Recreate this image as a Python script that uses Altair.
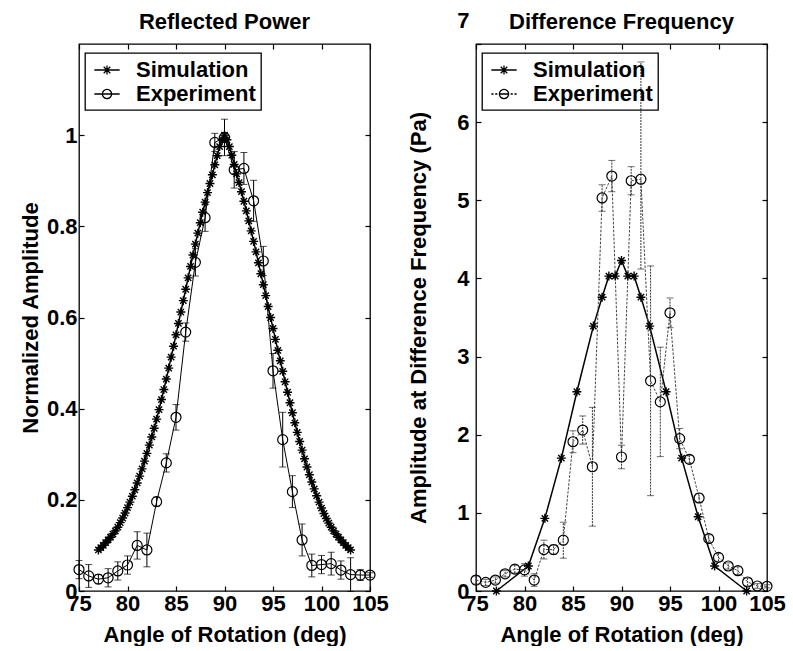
import altair as alt
import pandas as pd

FONT = "Liberation Sans"

# ---------------- Reflected Power (left panel) ----------------
refl_sim_angle = [77, 77.25, 77.5, 77.75, 78, 78.25, 78.5, 78.75, 79, 79.25, 79.5, 79.75,
                  80, 80.25, 80.5, 80.75, 81, 81.25, 81.5, 81.75, 82, 82.25, 82.5, 82.75,
                  83, 83.25, 83.5, 83.75, 84, 84.25, 84.5, 84.75, 85, 85.25, 85.5, 85.75,
                  86, 86.25, 86.5, 86.75, 87, 87.25, 87.5, 87.75, 88, 88.25, 88.5, 88.75,
                  89, 89.25, 89.5, 89.75, 90, 90.25, 90.5, 90.75, 91, 91.25, 91.5, 91.75,
                  92, 92.25, 92.5, 92.75, 93, 93.25, 93.5, 93.75, 94, 94.25, 94.5, 94.75,
                  95, 95.25, 95.5, 95.75, 96, 96.25, 96.5, 96.75, 97, 97.25, 97.5, 97.75,
                  98, 98.25, 98.5, 98.75, 99, 99.25, 99.5, 99.75, 100, 100.25, 100.5, 100.75,
                  101, 101.25, 101.5, 101.75, 102, 102.25, 102.5, 102.75, 103]
refl_sim_amp = [0.090, 0.095, 0.100, 0.106, 0.112, 0.118, 0.125, 0.132, 0.140, 0.150,
                0.160, 0.171, 0.183, 0.195, 0.208, 0.222, 0.237, 0.252, 0.268, 0.285,
                0.302, 0.320, 0.338, 0.357, 0.377, 0.398, 0.420, 0.442, 0.465, 0.489,
                0.513, 0.537, 0.562, 0.587, 0.612, 0.637, 0.662, 0.687, 0.712, 0.737,
                0.761, 0.785, 0.808, 0.831, 0.853, 0.874, 0.894, 0.913, 0.935, 0.955,
                0.975, 0.990,
                1.000,
                0.990, 0.975, 0.956, 0.936, 0.915, 0.896, 0.876, 0.855, 0.834, 0.812,
                0.790, 0.767, 0.744, 0.720, 0.696, 0.672, 0.648, 0.624, 0.600, 0.576,
                0.552, 0.528, 0.505, 0.482, 0.459, 0.436, 0.413, 0.391, 0.369, 0.348,
                0.328, 0.309, 0.290, 0.272, 0.255, 0.239, 0.224, 0.209, 0.195, 0.182,
                0.170, 0.159, 0.149, 0.140, 0.132, 0.125, 0.118, 0.112, 0.106, 0.100,
                0.095, 0.090]

refl_exp_angle = [75, 76, 77, 78, 79, 80, 81, 82, 83, 84, 85, 86, 87, 88, 89, 90,
                  91, 92, 93, 94, 95, 96, 97, 98, 99, 100, 101, 102, 103, 104, 105]
refl_exp_amp = [0.047, 0.033, 0.026, 0.029, 0.044, 0.057, 0.100, 0.090, 0.196, 0.281,
                0.381, 0.568, 0.721, 0.819, 0.984, 0.995, 0.924, 0.927, 0.856, 0.724,
                0.483, 0.332, 0.218, 0.112, 0.056, 0.058, 0.060, 0.046, 0.036, 0.035, 0.035]
refl_exp_err = [0.020, 0.025, 0.010, 0.020, 0.020, 0.020, 0.030, 0.037, 0.010, 0.020,
                0.028, 0.020, 0.030, 0.030, 0.020, 0.040, 0.040, 0.035, 0.045, 0.032,
                0.038, 0.060, 0.035, 0.035, 0.025, 0.020, 0.025, 0.020, 0.037, 0.012, 0.005]

# ---------------- Difference Frequency (right panel) ----------------
diff_sim_angle = [77.1, 80.4, 82.1, 83.8, 85.4, 87.1, 88.0, 88.7, 89.35, 90.0,
                  90.65, 91.3, 92.0, 92.9, 94.6, 96.2, 97.9, 99.6, 102.9]
diff_sim_amp = [0.0, 0.32, 0.93, 1.70, 2.55, 3.39, 3.76, 4.03, 4.03, 4.23,
                4.03, 4.03, 3.76, 3.39, 2.55, 1.70, 0.95, 0.32, 0.0]

diff_exp_angle = [75, 76, 77, 78, 79, 80, 81, 82, 83, 84, 85, 86, 87, 88, 89, 90,
                  91, 92, 93, 94, 95, 96, 97, 98, 99, 100, 101, 102, 103, 104, 105]
diff_exp_amp = [0.14, 0.11, 0.14, 0.22, 0.28, 0.27, 0.14, 0.53, 0.53, 0.65,
                1.91, 2.06, 1.59, 5.03, 5.31, 1.715, 5.25, 5.27, 2.69, 2.42,
                3.56, 1.95, 1.685, 1.19, 0.67, 0.43, 0.32, 0.26, 0.115, 0.064, 0.06]
diff_exp_err_lo = [0.05, 0.04, 0.04, 0.04, 0.05, 0.08, 0.08, 0.12, 0.06, 0.23,
                   0.14, 0.18, 0.76, 0.17, 0.20, 0.15, 0.18, 1.15, 1.47, 0.70,
                   0.19, 0.13, 0.05, 0.06, 0.05, 0.05, 0.04, 0.05, 0.05, 0.03, 0.02]
diff_exp_err_hi = [0.05, 0.04, 0.04, 0.04, 0.05, 0.08, 0.08, 0.12, 0.06, 0.23,
                   0.14, 0.18, 0.76, 0.17, 0.20, 0.15, 0.18, 1.50, 1.47, 0.70,
                   0.19, 0.13, 0.05, 0.06, 0.05, 0.05, 0.04, 0.05, 0.05, 0.03, 0.02]

series_names = ["Simulation", "Experiment"]
x_ticks = [75, 80, 85, 90, 95, 100, 105]
refl_y_ticks = [0, 0.2, 0.4, 0.6, 0.8, 1.0]
diff_y_ticks = [0, 1, 2, 3, 4, 5, 6, 7]

STAR = "M-1,0H1M0,-1V1M-0.7,-0.7L0.7,0.7M-0.7,0.7L0.7,-0.7"
LEG_SIM = "M-1.15,0H1.15M-0.42,0H0.42M0,-0.42V0.42M-0.3,-0.3L0.3,0.3M-0.3,0.3L0.3,-0.3"
LEG_EXP_SOLID = "M-1.15,0H1.15M0.42,0A0.42,0.42 0 1,1 -0.42,0A0.42,0.42 0 1,1 0.42,0"
LEG_EXP_DOT = ("M-1.15,0H-0.95M-0.8,0H-0.6M0.6,0H0.8M0.95,0H1.15M-0.42,0H0.42"
               "M0.42,0A0.42,0.42 0 1,1 -0.42,0A0.42,0.42 0 1,1 0.42,0")

W, H = 291, 547


def panel(title, ytitle, sim_a, sim_v, exp_a, exp_v, lo, hi, ydom, yticks,
          ylabpad, ytitlepad, exp_dash, leg_exp, err_color, label_offset, title_offset):
    sim_df = pd.DataFrame({"angle": sim_a, "amp": sim_v})
    exp_df = pd.DataFrame({"angle": exp_a, "amp": exp_v,
                           "lo": [v - e for v, e in zip(exp_v, lo)],
                           "hi": [v + e for v, e in zip(exp_v, hi)]})
    leg_df = pd.DataFrame({"series": series_names, "angle": [0, 0], "amp": [0, 0]})

    xs = alt.Scale(domain=[75, 105], nice=False, zero=False)
    ys = alt.Scale(domain=ydom, nice=False, zero=False)

    bottom = alt.Axis(orient="bottom", values=x_ticks, tickSize=5, offset=-5, domain=False,
                      grid=False, labelPadding=2, labelFlush=False, labelOverlap=False,
                      format="d", title="Angle of Rotation (deg)", titlePadding=10)
    top = alt.Axis(orient="top", values=x_ticks, tickSize=5, offset=-5, domain=False,
                   grid=False, labels=False, title=None)
    left_kw = dict(orient="left", values=yticks, tickSize=5, offset=-5, domain=False,
                   grid=False, labelPadding=ylabpad, labelFlush=False, labelOverlap=False,
                   format="~g", title=ytitle, titlePadding=ytitlepad)
    if label_offset is not None:
        left_kw["labelOffset"] = label_offset
    left = alt.Axis(**left_kw)
    right = alt.Axis(orient="right", values=yticks, tickSize=5, offset=-5, domain=False,
                     grid=False, labels=False, title=None)

    sim_line = alt.Chart(sim_df).mark_line(color="black", strokeWidth=1.5).encode(
        x=alt.X("angle:Q", scale=xs, axis=bottom),
        y=alt.Y("amp:Q", scale=ys, axis=left),
    )
    exp_line_kw = dict(color="black", strokeWidth=1)
    if exp_dash:
        exp_line_kw = dict(color="#444444", strokeWidth=1, strokeDash=[2.5, 1.5])
    exp_line = alt.Chart(exp_df).mark_line(**exp_line_kw).encode(
        x=alt.X("angle:Q", scale=xs, axis=top),
        y=alt.Y("amp:Q", scale=ys, axis=right),
    )
    rule_kw = dict(color=err_color, strokeWidth=1)
    if exp_dash:
        rule_kw["strokeDash"] = [2, 1]
    err = alt.Chart(exp_df).mark_rule(**rule_kw).encode(
        x=alt.X("angle:Q", scale=xs, axis=None),
        y=alt.Y("lo:Q", scale=ys, axis=None),
        y2="hi:Q",
    )
    cap_lo = alt.Chart(exp_df).mark_tick(orient="horizontal", size=7, thickness=1,
                                         color=err_color).encode(
        x=alt.X("angle:Q", scale=xs, axis=None),
        y=alt.Y("lo:Q", scale=ys, axis=None),
    )
    cap_hi = alt.Chart(exp_df).mark_tick(orient="horizontal", size=7, thickness=1,
                                         color=err_color).encode(
        x=alt.X("angle:Q", scale=xs, axis=None),
        y=alt.Y("hi:Q", scale=ys, axis=None),
    )
    sim_pts = alt.Chart(sim_df).mark_point(shape=STAR, size=81, filled=False,
                                           color="black", strokeWidth=1.4, opacity=1).encode(
        x=alt.X("angle:Q", scale=xs, axis=None),
        y=alt.Y("amp:Q", scale=ys, axis=None),
    )
    exp_pts = alt.Chart(exp_df).mark_point(shape="circle", size=100, filled=False,
                                           color="black", strokeWidth=1.2, opacity=1).encode(
        x=alt.X("angle:Q", scale=xs, axis=None),
        y=alt.Y("amp:Q", scale=ys, axis=None),
    )
    leg = alt.Chart(leg_df).mark_point(clip=True, filled=False, color="black",
                                       opacity=1).encode(
        x=alt.X("angle:Q", scale=xs, axis=None),
        y=alt.Y("amp:Q", scale=ys, axis=None),
        shape=alt.Shape("series:N",
                        scale=alt.Scale(domain=series_names, range=[LEG_SIM, leg_exp]),
                        legend=alt.Legend(orient="none", legendX=6, legendY=9, title=None,
                                          labelFont=FONT, labelFontSize=22,
                                          labelFontWeight="bold", labelColor="black",
                                          strokeColor="black", padding=5,
                                          symbolSize=484, symbolStrokeWidth=1.3,
                                          symbolStrokeColor="black",
                                          symbolFillColor="transparent",
                                          rowPadding=1, labelOffset=17, symbolOffset=5,
                                          labelExpr="datum.label + '\u00a0\u00a0'")),
    )
    return alt.layer(sim_line, exp_line, err, cap_lo, cap_hi, exp_pts, sim_pts, leg).resolve_axis(
        x="independent", y="independent"
    ).properties(
        width=W, height=H,
        title=alt.TitleParams(title, font=FONT, fontSize=22, fontWeight="bold",
                              color="black", anchor="middle", offset=title_offset,
                              baseline="alphabetic"),
    )


left_panel = panel("Reflected Power", "Normalized Amplitude",
                   refl_sim_angle, refl_sim_amp, refl_exp_angle, refl_exp_amp,
                   refl_exp_err, refl_exp_err, [0, 1.2], refl_y_ticks,
                   2, 4, False, LEG_EXP_SOLID, "black", None, -8)
right_panel = panel("Difference Frequency", "Amplitude at Difference Frequency (Pa)",
                    diff_sim_angle, diff_sim_amp, diff_exp_angle, diff_exp_amp,
                    diff_exp_err_lo, diff_exp_err_hi, [0, 7], diff_y_ticks,
                    7, 26, True, LEG_EXP_DOT, "#333333",
                    {"condition": {"test": "datum.value == 7", "value": -24}, "value": 0},
                    -42)

chart = alt.hconcat(left_panel, right_panel, spacing=106, bounds="flush").resolve_scale(
    shape="independent"
).resolve_legend(shape="independent").properties(
    padding={"left": 18, "top": 8, "right": 0, "bottom": 0},
    background="white",
).configure_view(stroke="black", strokeWidth=1.3).configure_axis(
    labelFont=FONT, labelFontSize=22, labelFontWeight="bold", labelColor="black",
    titleFont=FONT, titleFontSize=22, titleFontWeight="bold", titleColor="black",
    tickColor="black", tickWidth=1.2,
).configure_legend(strokeWidth=1.3)

chart.save("out.html", embed_options={"renderer": "svg", "actions": False})
